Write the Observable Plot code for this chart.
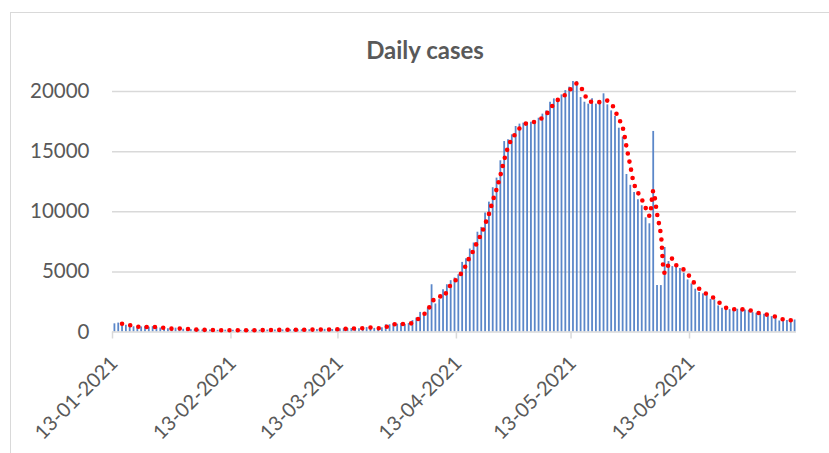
<!DOCTYPE html>
<html>
<head>
<meta charset="utf-8">
<script src="https://cdn.jsdelivr.net/npm/d3@7"></script>
<script src="https://cdn.jsdelivr.net/npm/@observablehq/plot@0.6"></script>
<style>
  html, body { margin: 0; padding: 0; background: #fff; }
  #wrap { position: relative; width: 829px; height: 453px; overflow: hidden; font-family: Lato, "Open Sans", sans-serif; }
  #frame { position: absolute; left: 10px; top: 12px; width: 840px; height: 470px; border: 1.5px solid #D9D9D9; box-sizing: border-box; }
  #title { position: absolute; left: 10px; width: 830px; top: 37px; line-height: 26px; text-align: center; font-weight: bold; font-size: 24px; color: #595959; }
  #chart { position: absolute; left: 0; top: 0; }
</style>
</head>
<body>
<div id="wrap">
  <div id="frame"></div>
  <div id="chart"></div>
  <div id="title">Daily cases</div>
</div>
<script>
// ---- data ----
const startDate = "2021-01-13";   // first day of the series
const dayCount = 179;             // 13-01-2021 .. 10-07-2021 (axis span)
const cases = [
  680, 740, 650, 560, 520, 430, 400, 420, 430, 400,
  440, 380, 330, 300, 270, 260, 320, 310, 230, 220,
  200, 190, 190, 170, 160, 175, 150, 140, 160, 150,
  135, 145, 150, 140, 135, 150, 145, 160, 150, 165,
  160, 175, 165, 180, 175, 190, 185, 180, 175, 190,
  200, 190, 210, 200, 205, 220, 215, 210, 235, 260,
  270, 280, 290, 320, 270, 340, 370, 420, 300, 250,
  350, 600, 600, 700, 650, 700, 620, 700, 950, 1160,
  1630, 1630, 2000, 3930, 2330, 2690, 3520, 3930, 4270, 4490,
  4760, 5790, 6100, 6900, 7400, 8300, 8700, 9900, 10800, 12000,
  12800, 14240, 15840, 15980, 16400, 17090, 17290, 17370, 17420, 17450,
  17560, 17780, 18120, 18390, 19110, 19390, 19390, 19720, 20080, 20360,
  20830, 20830, 19500, 19110, 18950, 19390, 18950, 19030, 19810, 18890,
  18390, 17920, 16950, 16200, 13100, 12200, 11600, 11000, 10500, 9500,
  9000, 16680, 3860, 3860, 7030, 5860, 5440, 5390, 5280, 4890,
  4330, 4000, 3560, 3280, 3170, 3030, 2720, 2670, 2170, 1970,
  1920, 1860, 1890, 1890, 1890, 1830, 1780, 1610, 1560, 1470,
  1470, 1330, 1280, 1220, 915, 1000, 950, 1000, 1000
];
const yTicks = [0, 5000, 10000, 15000, 20000];
const xTickDates = ["2021-01-13", "2021-02-13", "2021-03-13", "2021-04-13", "2021-05-13", "2021-06-13"];
const yMax = 21000;
const trendPeriod = 3;            // moving-average trendline period

// ---- build ----
const DAY = 864e5;
const t0 = new Date(startDate + "T00:00:00Z").getTime();
const rows = cases.map((v, i) => ({ date: new Date(t0 + (i + 0.5) * DAY), cases: v }));
const ticks = xTickDates.map(s => new Date(s + "T00:00:00Z"));
const fmt = d3.utcFormat("%d-%m-%Y");

const chart = Plot.plot({
  width: 829,
  height: 453,
  marginLeft: 112,
  marginRight: 33,
  marginTop: 79,
  marginBottom: 121.5,
  style: { fontFamily: "Lato, 'Open Sans', sans-serif", color: "#595959", background: "transparent", overflow: "visible" },
  x: { type: "utc", domain: [new Date(t0), new Date(t0 + dayCount * DAY)], label: null },
  y: { domain: [0, yMax], label: null },
  marks: [
    Plot.ruleY(yTicks.filter(d => d > 0), { stroke: "#D9D9D9", strokeWidth: 1.5 }),
    Plot.ruleX(rows, { x: "date", y1: 0, y2: "cases", stroke: "#5B87C9", strokeWidth: 1.8 }),
    Plot.ruleY([0], { stroke: "#D9D9D9", strokeWidth: 1.5 }),
    Plot.axisX({ ticks, tickSize: 7, tickFormat: () => "", stroke: "#D9D9D9", strokeWidth: 1.5, label: null }),
    Plot.text(ticks, {
      x: d => d, frameAnchor: "bottom", text: d => fmt(d),
      rotate: -45, textAnchor: "end", lineAnchor: "middle",
      dx: 2, dy: 28, fontSize: 20, fill: "#595959"
    }),
    Plot.axisY({ ticks: yTicks, tickSize: 0, tickPadding: 23, tickFormat: d => String(d), fontSize: 20.5, fill: "#595959", label: null }),
    Plot.lineY(rows, Plot.windowY(
      { k: trendPeriod, anchor: "end", strict: true },
      { x: "date", y: "cases", stroke: "#FF0000", strokeWidth: 4.6,
        strokeDasharray: "0 8.3", strokeLinecap: "round", curve: "catmull-rom" }
    ))
  ]
});
document.getElementById("chart").appendChild(chart);
</script>
</body>
</html>
